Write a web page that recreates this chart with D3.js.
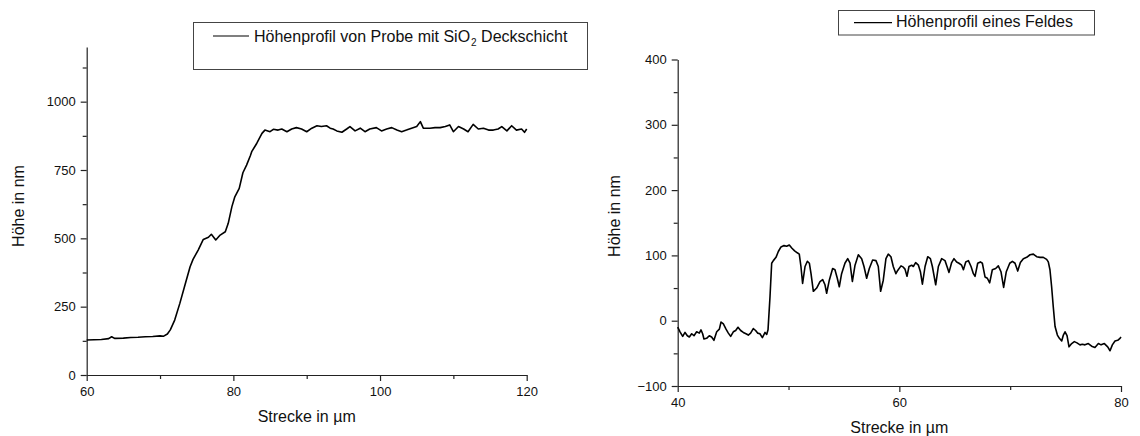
<!DOCTYPE html>
<html>
<head>
<meta charset="utf-8">
<script src="https://cdn.jsdelivr.net/npm/d3@7"></script>
<style>
  body { margin: 0; background: #fff; }
  svg { display: block; font-family: "Liberation Sans", Arial, sans-serif; }
  .axis path, .axis line { stroke: #222; stroke-width: 1.2; }
  .axis text { font-size: 13px; fill: #111; }
</style>
</head>
<body>
<svg id="chart" width="1140" height="436"></svg>
<script>
// left panel: Höhenprofil von Probe mit SiO2 Deckschicht
const leftX = [60, 61, 62, 63, 63.4, 63.8, 65, 66, 67, 68, 69, 70, 70.5, 71, 71.4, 72, 72.7, 73.4, 74.1, 74.5,
  75.2, 75.9, 76.6, 77.0, 77.6, 78.2, 78.9, 79.3, 79.8, 80.2, 80.8, 81.3, 81.8, 82.3, 82.5, 83.2, 83.9, 84.3,
  85.0, 85.45, 86.1, 86.6, 87.3, 87.95, 88.6, 89.3, 90.0, 90.7, 91.4, 92.0, 92.7, 93.2, 93.6, 94.1, 94.8,
  95.45, 95.9, 96.6, 97.3, 97.95, 98.6, 99.5, 100.2, 100.9, 101.6, 102.3, 102.95, 103.6, 104.3, 105.0, 105.5,
  105.9, 106.8, 107.5, 108.2, 108.9, 109.5, 110.0, 110.7, 111.4, 112.0, 112.7, 113.4, 114.1, 114.8, 115.45,
  116.1, 116.6, 117.3, 117.95, 118.6, 119.3, 119.7, 120.0];
const leftH = [128, 129, 130, 133, 140, 134, 135, 137, 138, 140, 141, 143, 142, 150, 165, 201, 262, 329, 396, 423,
  457, 496, 504, 515, 494, 512, 524, 555, 616, 652, 683, 740, 768, 801, 817, 848, 884, 896,
  890, 899, 896, 900, 890, 900, 905, 900, 890, 903, 912, 909, 912, 903, 900, 893, 888,
  900, 909, 893, 903, 890, 900, 905, 893, 900, 905, 896, 890, 896, 903, 909, 927,
  903, 903, 905, 905, 909, 915, 890, 909, 900, 890, 917, 900, 903, 896, 896,
  900, 909, 893, 912, 896, 900, 888, 900];
const leftYTicks = [0, 250, 500, 750, 1000];
const leftYMinor = [125, 375, 625, 875, 1125];
const leftXTicks = [60, 80, 100, 120];
const leftXMinor = [70, 90, 110];

// right panel: Höhenprofil eines Feldes
const rightX = [40.0, 40.21, 40.45, 40.66, 40.87, 41.05, 41.26, 41.47, 41.71, 41.95, 42.1, 42.25, 42.37, 42.61,
  42.85, 43.06, 43.27, 43.52, 43.76, 43.91, 44.12, 44.36, 44.57, 44.78, 45.02, 45.23, 45.44, 45.68, 45.92,
  46.16, 46.37, 46.58, 46.82, 47.03, 47.21, 47.42, 47.64, 47.88, 48.03, 48.15, 48.33, 48.48, 48.63, 48.87,
  49.08, 49.32, 49.59, 49.83, 50.07, 50.31, 50.55, 50.79, 50.97, 51.12, 51.27, 51.49, 51.7, 51.88, 52.03,
  52.24, 52.54, 52.84, 53.08, 53.29, 53.44, 53.68, 53.98, 54.19, 54.4, 54.58, 54.79, 55.09, 55.34, 55.55,
  55.76, 56.0, 56.3, 56.6, 56.81, 57.05, 57.29, 57.59, 57.89, 58.1, 58.31, 58.55, 58.79, 59.0, 59.24, 59.45,
  59.69, 59.85, 60.15, 60.36, 60.51, 60.69, 60.87, 61.11, 61.26, 61.47, 61.72, 61.9, 62.08, 62.32, 62.56,
  62.8, 62.98, 63.28, 63.52, 63.82, 64.12, 64.3, 64.48, 64.72, 64.93, 65.17, 65.38, 65.62, 65.78, 65.99,
  66.23, 66.47, 66.68, 66.83, 67.07, 67.31, 67.49, 67.73, 67.94, 68.15, 68.39, 68.69, 68.93, 69.17, 69.41,
  69.65, 69.96, 70.2, 70.44, 70.68, 70.92, 71.19, 71.49, 71.79, 72.09, 72.39, 72.69, 72.99, 73.29, 73.44,
  73.59, 73.74, 73.89, 74.05, 74.26, 74.44, 74.65, 74.8, 74.95, 75.13, 75.31, 75.55, 75.79, 76.03, 76.3,
  76.51, 76.75, 77.05, 77.35, 77.65, 77.96, 78.2, 78.5, 78.8, 79.01, 79.22, 79.46, 79.7, 79.91, 80.0];
const rightH = [-10, -17, -24, -18, -23, -25, -20, -23, -17, -19, -14, -20, -28, -27,
  -23, -25, -30, -17, -13, -2, -5, -13, -19, -24, -17, -15, -10, -15, -18,
  -20, -22, -19, -12, -15, -19, -20, -26, -18, -21, -14, 37, 88, 92, 97,
  106, 113, 115, 114, 116, 111, 107, 104, 102, 83, 57, 83, 91, 88, 72,
  45, 50, 60, 63, 55, 42, 62, 80, 78, 65, 52, 72, 88, 95, 88,
  60, 85, 101, 95, 83, 65, 80, 93, 92, 83, 45, 62, 95, 102, 98, 83,
  72, 77, 84, 82, 79, 68, 83, 85, 83, 89, 85, 75, 56, 83, 98,
  95, 83, 55, 83, 95, 92, 83, 74, 89, 95, 90, 88, 85, 78, 90,
  92, 83, 72, 68, 88, 90, 88, 67, 65, 58, 78, 80, 84, 75, 51,
  75, 88, 91, 88, 76, 89, 95, 97, 101, 102, 98, 97, 97, 94, 90,
  78, 52, 21, -9, -22, -27, -31, -22, -17, -23, -40, -35, -32, -34, -37,
  -36, -37, -35, -39, -41, -35, -37, -35, -40, -46, -37, -31, -30, -27, -25];
const rightYTicks = [-100, 0, 100, 200, 300, 400];
const rightYMinor = [-50, 50, 150, 250, 350];
const rightXTicks = [40, 60, 80];
const rightXMinor = [50, 70];

const svg = d3.select('#chart');
const fmt = d3.format('d');

function drawPanel(opt) {
  const x = d3.scaleLinear().domain(opt.xDomain).range(opt.xRange);
  const y = d3.scaleLinear().domain(opt.yDomain).range(opt.yRange);
  const g = svg.append('g');

  // minor ticks first, no labels
  g.append('g').attr('class', 'axis')
    .attr('transform', `translate(0,${opt.yRange[0]})`)
    .call(d3.axisBottom(x).tickValues(opt.xMinor).tickSize(4).tickFormat(''))
    .call(a => a.select('.domain').remove());
  g.append('g').attr('class', 'axis')
    .attr('transform', `translate(${opt.xRange[0]},0)`)
    .call(d3.axisLeft(y).tickValues(opt.yMinor).tickSize(4).tickFormat(''))
    .call(a => a.select('.domain').remove());

  g.append('g').attr('class', 'axis')
    .attr('transform', `translate(0,${opt.yRange[0]})`)
    .call(d3.axisBottom(x).tickValues(opt.xTicks).tickFormat(fmt).tickSize(6).tickSizeOuter(0).tickPadding(6));
  g.append('g').attr('class', 'axis')
    .attr('transform', `translate(${opt.xRange[0]},0)`)
    .call(d3.axisLeft(y).tickValues(opt.yTicks).tickFormat(fmt).tickSize(6).tickSizeOuter(0).tickPadding(5));

  const line = d3.line().x((d, i) => x(opt.xs[i])).y(d => y(d));
  g.append('path')
    .datum(opt.ys)
    .attr('fill', 'none')
    .attr('stroke', '#000')
    .attr('stroke-width', 1.6)
    .attr('stroke-linejoin', 'round')
    .attr('d', line);

  g.append('text')
    .attr('x', d3.mean(opt.xRange)).attr('y', opt.xTitleY)
    .attr('text-anchor', 'middle').attr('font-size', 16).attr('fill', '#111')
    .text('Strecke in µm');
  g.append('text')
    .attr('transform', `translate(${opt.yTitleX},${opt.yTitleY}) rotate(-90)`)
    .attr('text-anchor', 'middle').attr('font-size', 16).attr('fill', '#111')
    .text('Höhe in nm');
}

drawPanel({
  xs: leftX, ys: leftH,
  xDomain: [60, 120], xRange: [86.7, 526.7],
  yDomain: [0, 1200], yRange: [375, 47],
  xTicks: leftXTicks, xMinor: leftXMinor, yTicks: leftYTicks, yMinor: leftYMinor,
  xTitleY: 422, yTitleX: 23.5, yTitleY: 206
});

drawPanel({
  xs: rightX, ys: rightH,
  xDomain: [40, 80], xRange: [677.7, 1121],
  yDomain: [-100, 400], yRange: [386, 59.5],
  xTicks: rightXTicks, xMinor: rightXMinor, yTicks: rightYTicks, yMinor: rightYMinor,
  xTitleY: 433, yTitleX: 619.5, yTitleY: 216
});

// legends
const lg1 = svg.append('g');
lg1.append('rect').attr('x', 193.5).attr('y', 22.5).attr('width', 394).attr('height', 47)
  .attr('fill', 'none').attr('stroke', '#444').attr('stroke-width', 1);
lg1.append('line').attr('x1', 213).attr('x2', 249).attr('y1', 36).attr('y2', 36)
  .attr('stroke', '#000').attr('stroke-width', 1.2);
const t1 = lg1.append('text').attr('x', 254).attr('y', 42).attr('font-size', 16).attr('fill', '#111');
t1.append('tspan').text('Höhenprofil von Probe mit SiO');
t1.append('tspan').attr('font-size', 10).attr('dx', 1).attr('dy', 4).text('2');
t1.append('tspan').attr('dy', -4).text(' Deckschicht');

const lg2 = svg.append('g');
lg2.append('rect').attr('x', 838.5).attr('y', 10.5).attr('width', 256).attr('height', 24.5)
  .attr('fill', 'none').attr('stroke', '#444').attr('stroke-width', 1);
lg2.append('line').attr('x1', 854).attr('x2', 892).attr('y1', 22.7).attr('y2', 22.7)
  .attr('stroke', '#000').attr('stroke-width', 1.2);
lg2.append('text').attr('x', 896).attr('y', 27.3).attr('font-size', 16).attr('fill', '#111')
  .text('Höhenprofil eines Feldes');
</script>
</body>
</html>
